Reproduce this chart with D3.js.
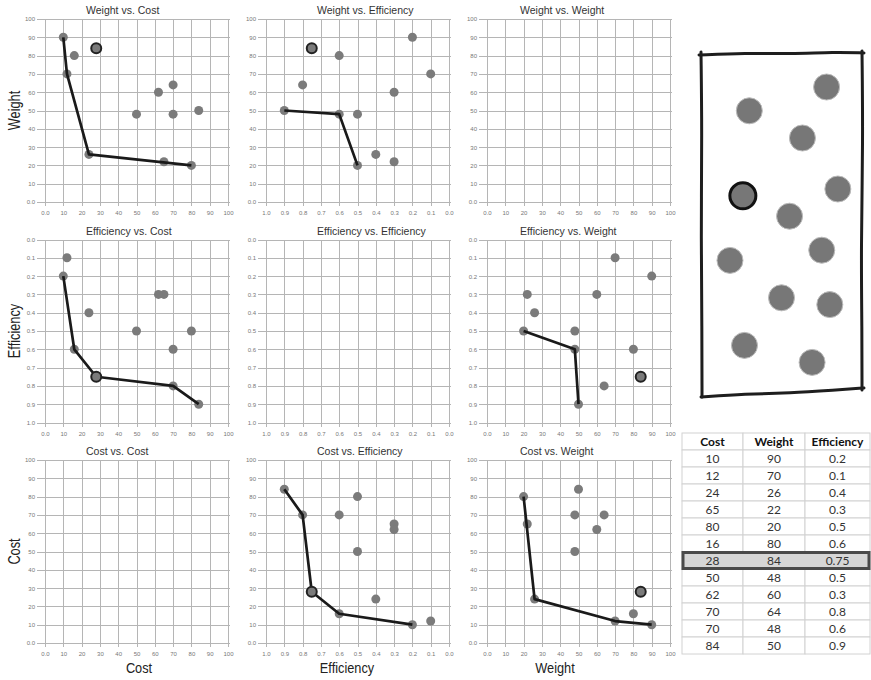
<!DOCTYPE html>
<html>
<head>
<meta charset="utf-8">
<script src="https://cdn.jsdelivr.net/npm/d3@7"></script>
<style>
body { margin: 0; background: #fff; }
svg { display: block; font-family: "Liberation Sans", Arial, sans-serif; }
.grid line { stroke: #b5b5b5; shape-rendering: crispEdges; }
.grid text { fill: #777; font-size: 6px; font-family: "Liberation Sans", Arial, sans-serif; }
.title { font-size: 10.5px; fill: #333; }
.axis-label { font-size: 15px; fill: #222; }
.cell text { font-family: Lato, "Liberation Sans", sans-serif; font-size: 12px; fill: #333; }
</style>
</head>
<body>
<svg id="chart" width="871" height="680"></svg>
<script>
// design table, one entry per design
var cost = [10, 12, 24, 65, 80, 16, 28, 50, 62, 70, 70, 84];
var weight = [90, 70, 26, 22, 20, 80, 84, 48, 60, 64, 48, 50];
var efficiency = ["0.2", "0.1", "0.4", "0.3", "0.5", "0.6", "0.75", "0.5", "0.3", "0.8", "0.6", "0.9"];
var selected = 6;

var rowVars = ["Weight", "Efficiency", "Cost"];
var colVars = ["Cost", "Efficiency", "Weight"];
var ticks100 = [0, 10, 20, 30, 40, 50, 60, 70, 80, 90, 100];
var ticks1 = [0, 0.1, 0.2, 0.3, 0.4, 0.5, 0.6, 0.7, 0.8, 0.9, 1.0];

// pareto fronts (design indexes) for each y-vs-x panel
var frontWeightCost = [0, 1, 2, 4];
var frontWeightEff = [11, 10, 4];
var frontEffCost = [0, 5, 6, 9, 11];
var frontEffWeight = [4, 10, 11];
var frontCostEff = [11, 9, 6, 5, 0];
var frontCostWeight = [4, 2, 1, 0];

// where the designs sit in the sketch, percent across / down the box
var sketchX = [78, 30, 63, 85, 55, 75, 26, 18, 50, 80, 27, 69];
var sketchY = [10, 17, 25, 40, 48, 58, 42, 61, 72, 74, 86, 91];

var svg = d3.select("#chart");

var size = 183;
var colX = [45, 266, 487];
var rowY = [19, 239.5, 460];
var titleOff = [41, 51, 33];
var xLabelPos = [139, 347, 555];

var values = {
    Cost: cost,
    Weight: weight,
    Efficiency: efficiency.map(Number)
};
var fronts = {
    "Weight|Cost": frontWeightCost,
    "Weight|Efficiency": frontWeightEff,
    "Efficiency|Cost": frontEffCost,
    "Efficiency|Weight": frontEffWeight,
    "Cost|Efficiency": frontCostEff,
    "Cost|Weight": frontCostWeight
};

function makeScale(name, range, isY) {
    if (name == "Efficiency") {
        return d3.scaleLinear().domain(isY ? [0, 1] : [1, 0]).range(range);
    }
    return d3.scaleLinear().domain(isY ? [100, 0] : [0, 100]).range(range);
}
function ticksFor(name) { return name == "Efficiency" ? ticks1 : ticks100; }
function formatFor(name) {
    if (name == "Efficiency") return d3.format(".1f");
    return function(d) { return d == 0 ? "0.0" : d; };
}

// --> SCATTERPLOT MATRIX
rowVars.forEach(function(yName, r) {
    colVars.forEach(function(xName, c) {
        var ox = colX[c], oy = rowY[r];
        var x = makeScale(xName, [ox, ox + size], false);
        var y = makeScale(yName, [oy, oy + size], true);
        var g = svg.append("g");

        // vertical grid + x tick labels
        g.append("g")
            .attr("class", "grid")
            .attr("transform", "translate(0," + (oy + size + 4) + ")")
            .call(d3.axisBottom(x).tickValues(ticksFor(xName))
                .tickSize(-(size + 4)).tickPadding(5).tickFormat(formatFor(xName)))
            .call(function(a) { a.select(".domain").remove(); });

        // horizontal grid + y tick labels
        g.append("g")
            .attr("class", "grid")
            .attr("transform", "translate(" + (ox - 8) + ",0)")
            .call(d3.axisLeft(y).tickValues(ticksFor(yName))
                .tickSize(-(size + 10)).tickPadding(2).tickFormat(formatFor(yName)))
            .call(function(a) { a.select(".domain").remove(); });

        g.append("text")
            .attr("class", "title")
            .attr("x", ox + titleOff[c])
            .attr("y", oy - 5)
            .text(yName + " vs. " + xName);

        if (xName == yName) return;

        var xs = values[xName], ys = values[yName];
        var others = d3.range(xs.length).filter(function(i) { return i != selected; });

        g.selectAll(".dot")
            .data(others)
            .enter().append("circle")
            .attr("class", "dot")
            .attr("cx", function(i) { return x(xs[i]); })
            .attr("cy", function(i) { return y(ys[i]); })
            .attr("r", 4.5)
            .attr("fill", "#7b7b7b");

        var line = d3.line()
            .x(function(i) { return x(xs[i]); })
            .y(function(i) { return y(ys[i]); });

        g.append("path")
            .attr("d", line(fronts[yName + "|" + xName]))
            .attr("fill", "none")
            .attr("stroke", "#1a1a1a")
            .attr("stroke-width", 2.7)
            .attr("stroke-linejoin", "round");

        g.append("circle")
            .attr("cx", x(xs[selected]))
            .attr("cy", y(ys[selected]))
            .attr("r", 5)
            .attr("fill", "#7b7b7b")
            .attr("stroke", "#222")
            .attr("stroke-width", 2);
    });
});

// axis labels (left side and bottom)
rowVars.forEach(function(name, r) {
    svg.append("text")
        .attr("class", "axis-label")
        .attr("text-anchor", "middle")
        .attr("dy", "0.35em")
        .attr("transform", "translate(14," + (rowY[r] + size / 2) + ") rotate(-90) scale(0.85,1.07)")
        .text(name);
});
colVars.forEach(function(name, c) {
    svg.append("text")
        .attr("class", "axis-label")
        .attr("text-anchor", "middle")
        .attr("transform", "translate(" + xLabelPos[c] + ",673) scale(0.85,1)")
        .text(name);
});

// --> SKETCH OF THE DESIGNS
var boxL = 701, boxR = 862, boxT = 53, boxB = 393;
var sx = d3.scaleLinear().domain([0, 100]).range([boxL, boxR]);
var sy = d3.scaleLinear().domain([0, 100]).range([boxT, boxB]);

var wobble = d3.line().curve(d3.curveBasis);
var sides = [
    [[boxL - 2, boxT + 2], [745, boxT], [790, boxT + 1], [835, boxT - 1], [boxR + 2, boxT]],
    [[boxR, boxT - 2], [boxR + 1, 140], [boxR - 1, 250], [boxR, 330], [boxR, boxB - 3]],
    [[boxL, boxB + 4], [745, boxB + 1], [790, boxB], [835, boxB - 3], [boxR + 2, boxB - 5]],
    [[boxL, boxT - 1], [boxL + 1, 130], [boxL, 240], [boxL + 1, 330], [boxL + 1, boxB + 4]]
];
svg.selectAll(".side")
    .data(sides)
    .enter().append("path")
    .attr("class", "side")
    .attr("d", function(d) { return wobble(d); })
    .attr("fill", "none")
    .attr("stroke", "#1e1e1e")
    .attr("stroke-width", 3)
    .attr("stroke-linecap", "round");

svg.selectAll(".sketch-dot")
    .data(d3.range(sketchX.length))
    .enter().append("circle")
    .attr("class", "sketch-dot")
    .attr("cx", function(i) { return sx(sketchX[i]); })
    .attr("cy", function(i) { return sy(sketchY[i]); })
    .attr("r", 13)
    .attr("fill", "#777")
    .attr("stroke", function(i) { return i == selected ? "#111" : "#bbb"; })
    .attr("stroke-width", function(i) { return i == selected ? 3 : 1; });

// --> DATA TABLE
var headers = ["Cost", "Weight", "Efficiency"];
var colW = [61, 62, 65];
var tableLeft = 682, tableTop = 433, rowH = 17;
var colEdges = [tableLeft];
colW.forEach(function(w, i) { colEdges.push(colEdges[i] + w); });

var rowScale = d3.scaleBand()
    .domain(d3.range(cost.length + 1))
    .range([tableTop, tableTop + rowH * (cost.length + 1)]);

var rows = [headers].concat(d3.range(cost.length).map(function(i) {
    return [cost[i], weight[i], efficiency[i]];
}));

rows.forEach(function(row, r) {
    row.forEach(function(v, c) {
        svg.append("rect")
            .attr("x", colEdges[c])
            .attr("y", rowScale(r))
            .attr("width", colW[c])
            .attr("height", rowScale.bandwidth())
            .attr("fill", "#fff")
            .attr("stroke", "#d2d2d2");
    });
});

svg.append("rect")
    .attr("x", colEdges[0] + 1)
    .attr("y", rowScale(selected + 1) + 0.5)
    .attr("width", colEdges[3] - colEdges[0] - 2)
    .attr("height", rowScale.bandwidth() - 1)
    .attr("fill", "#d6d6d6")
    .attr("stroke", "#4a4a4a")
    .attr("stroke-width", 3);

rows.forEach(function(row, r) {
    row.forEach(function(v, c) {
        svg.append("g").attr("class", "cell").append("text")
            .attr("x", colEdges[c] + colW[c] / 2)
            .attr("y", rowScale(r) + rowScale.bandwidth() / 2)
            .attr("dy", "0.36em")
            .attr("text-anchor", "middle")
            .attr("font-weight", r == 0 ? "bold" : null)
            .style("fill", r == 0 ? "#111" : "#333")
            .text(v);
    });
});
</script>
</body>
</html>
